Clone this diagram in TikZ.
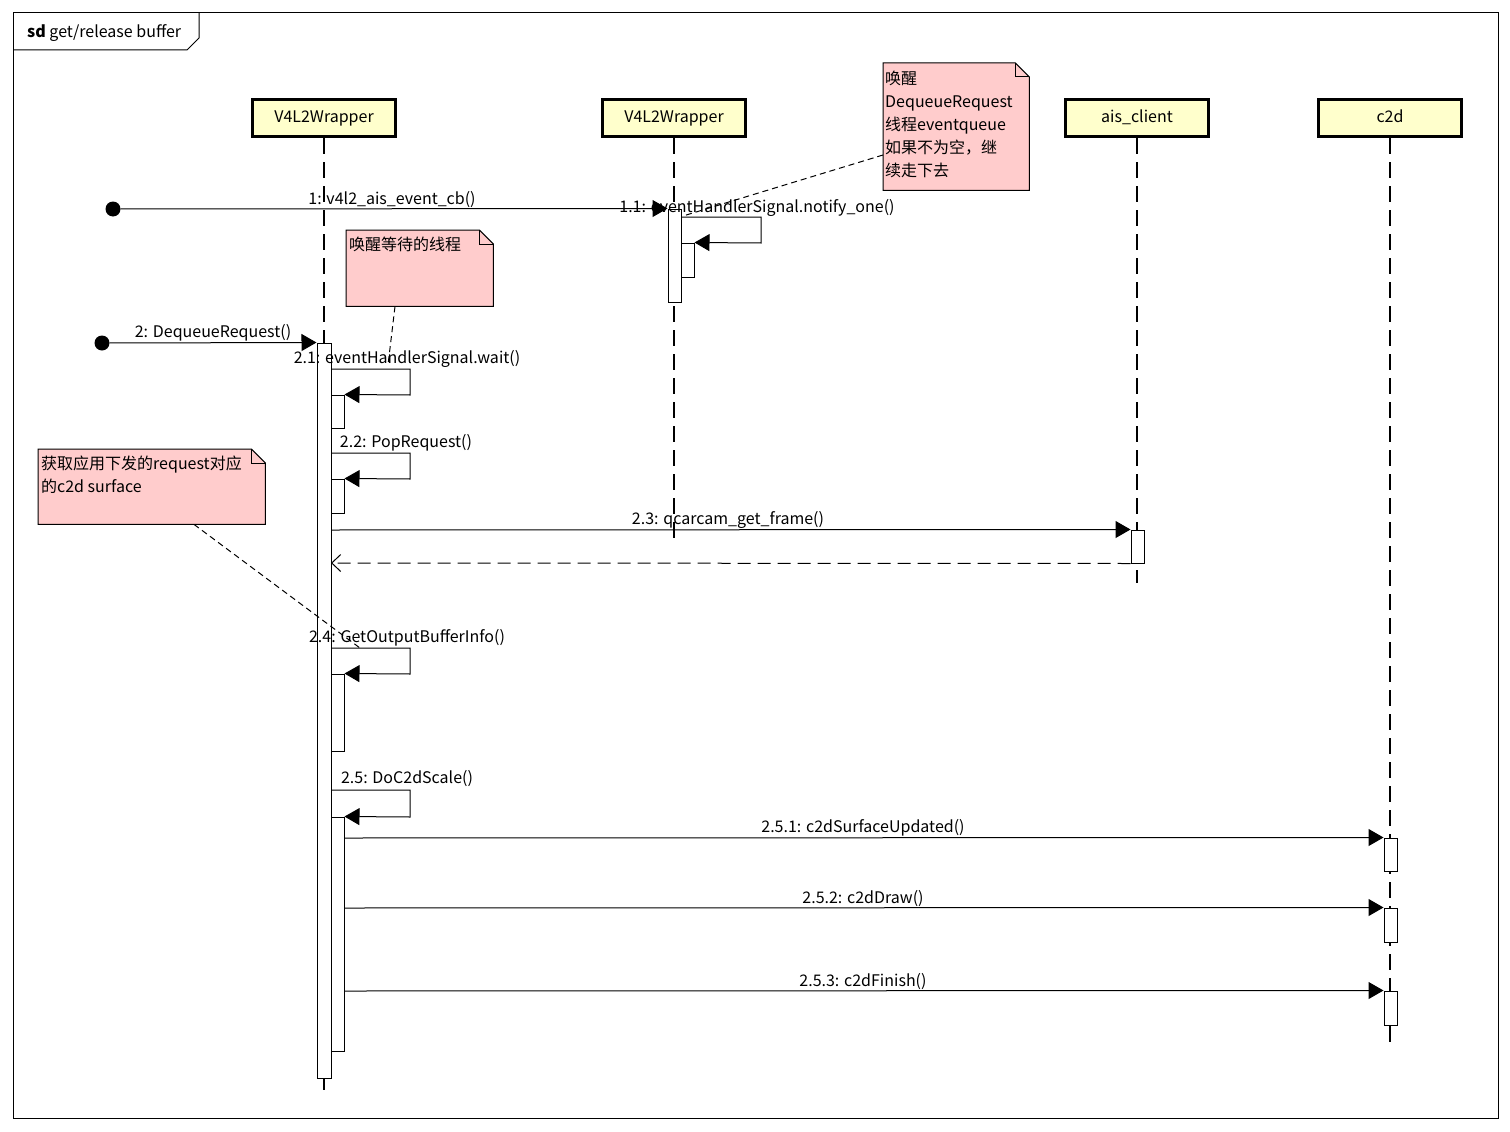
\documentclass[tikz,border=0pt]{standalone}
\usepackage{fontspec}
\setmainfont{Noto Sans CJK SC}
\usetikzlibrary{arrows.meta,fit}
\definecolor{headfill}{RGB}{255,255,204}
\definecolor{notefill}{RGB}{255,204,204}
\begin{document}
\begin{tikzpicture}[x=1pt,y=-1pt,
  every node/.style={font=\fontsize{16}{23}\selectfont},
  head/.style={draw, line width=3pt, fill=headfill, minimum width=143pt, minimum height=37pt, inner sep=0, text height=12pt, text depth=3.5pt},
  lifeln/.style={line width=1.2pt, dash pattern=on 16pt off 8pt},
  actbox/.style={draw, fill=white, line width=1pt, inner sep=0, minimum width=0pt, minimum height=0pt},
  msg/.style={line width=1pt, -{Triangle[length=15pt,width=17pt]}},
  retmsg/.style={line width=1pt, dash pattern=on 13pt off 7pt, -{Straight Barb[length=9pt,width=17pt,line width=1pt]}},
  startdot/.style={circle, fill=black, minimum size=15pt, inner sep=0},
  lbl/.style={anchor=base, inner sep=0},
  notelink/.style={line width=1pt, dash pattern=on 6pt off 4pt},
  notebox/.style={inner sep=0, anchor=north west},
  notetxt/.style={anchor=north west, inner sep=0, align=left},
]
\useasboundingbox (0,0) rectangle (1510,1132);
\fill[white] (0,0) rectangle (1510,1132);

% frame
\draw[line width=1pt] (13,13) rectangle (1498,1118);
\draw[line width=1pt] (13,50) -- (187,50) -- (199,38) -- (199,13);
\node[anchor=base west, inner sep=0] (frametitle) at (27,38) {\textbf{sd} get/release buffer};

% lifeline heads
\node[head] (h1) at (324,118) {V4L2Wrapper};
\node[head] (h2) at (674,118) {V4L2Wrapper};
\node[head] (h3) at (1137,118) {ais\_client};
\node[head] (h4) at (1390,118) {c2d};

\coordinate (e1) at (324,1090);
\coordinate (e2) at (674,540);
\coordinate (e3) at (1137,583);
\coordinate (e4) at (1390,1042);
\draw[lifeln] (h1.south) -- (e1);
\draw[lifeln] (h2.south) -- (e2);
\draw[lifeln] (h3.south) -- (e3);
\draw[lifeln] (h4.south) -- (e4);

% activations
\node[actbox, fit={(668,209) (681,302)}] (a2) {};
\node[actbox, fit={(681,243) (694,277)}] (a2n) {};
\node[actbox, fit={(317,343) (331,1078)}] (a1) {};
\node[actbox, fit={(331,395) (344,428)}] (a1n1) {};
\node[actbox, fit={(331,479) (344,513)}] (a1n2) {};
\node[actbox, fit={(331,674) (344,751)}] (a1n4) {};
\node[actbox, fit={(331,817) (344,1051)}] (a1n5) {};
\node[actbox, fit={(1131,530) (1144,563)}] (a3) {};
\node[actbox, fit={(1384,838) (1397,871)}] (a4a) {};
\node[actbox, fit={(1384,908) (1397,942)}] (a4b) {};
\node[actbox, fit={(1384,991) (1397,1025)}] (a4c) {};

% message 1
\node[startdot] (s1) at (113,209) {};
\draw[msg] (s1) -- (a2.north west);
\node[lbl] (l1) at (392,204) {1: v4l2\_ais\_event\_cb()};

% 1.1 self
\coordinate (p11a) at (681,217);
\coordinate (p11b) at (761,217);
\coordinate (p11c) at (761,243);
\draw[msg] (p11a) -- (p11b) -- (p11c) -- (a2n.north east);
\node[lbl] (l11) at (757,212) {1.1: eventHandlerSignal.notify\_one()};

% message 2
\node[startdot] (s2) at (102,343) {};
\draw[msg] (s2) -- (a1.north west);
\node[lbl] (l2) at (213,337) {2: DequeueRequest()};

% 2.1
\coordinate (p21a) at (331,369);
\coordinate (p21b) at (410,369);
\coordinate (p21c) at (410,395);
\draw[msg] (p21a) -- (p21b) -- (p21c) -- (a1n1.north east);
\node[lbl] (l21) at (407,363) {2.1: eventHandlerSignal.wait()};

% 2.2
\coordinate (p22a) at (331,453);
\coordinate (p22b) at (410,453);
\coordinate (p22c) at (410,479);
\draw[msg] (p22a) -- (p22b) -- (p22c) -- (a1n2.north east);
\node[lbl] (l22) at (406,447) {2.2: PopRequest()};

% 2.3
\coordinate (p23a) at (331,530);
\draw[msg] (p23a) -- (a3.north west);
\node[lbl] (l23) at (728,524) {2.3: qcarcam\_get\_frame()};
\coordinate (r23) at (331,563);
\draw[retmsg] (a3.south west) -- (r23);

% 2.4
\coordinate (p24a) at (331,648);
\coordinate (p24b) at (410,648);
\coordinate (p24c) at (410,674);
\draw[msg] (p24a) -- (p24b) -- (p24c) -- (a1n4.north east);
\node[lbl] (l24) at (407,642) {2.4: GetOutputBufferInfo()};

% 2.5
\coordinate (p25a) at (331,790);
\coordinate (p25b) at (410,790);
\coordinate (p25c) at (410,817);
\draw[msg] (p25a) -- (p25b) -- (p25c) -- (a1n5.north east);
\node[lbl] (l25) at (407,783) {2.5: DoC2dScale()};

% 2.5.x
\coordinate (p251) at (344,838);
\coordinate (p252) at (344,908);
\coordinate (p253) at (344,991);
\draw[msg] (p251) -- (a4a.north west);
\draw[msg] (p252) -- (a4b.north west);
\draw[msg] (p253) -- (a4c.north west);
\node[lbl] (l251) at (863,832) {2.5.1: c2dSurfaceUpdated()};
\node[lbl] (l252) at (863,903) {2.5.2: c2dDraw()};
\node[lbl] (l253) at (863,986) {2.5.3: c2dFinish()};

% notes
\node[notebox, minimum width=146pt, minimum height=127pt] (n1) at (883,63) {};
\draw[line width=1pt, fill=notefill] (n1.north west) -- ([xshift=-14pt]n1.north east) -- ([yshift=-14pt]n1.north east) -- (n1.south east) -- (n1.south west) -- cycle;
\draw[line width=1pt] ([xshift=-14pt]n1.north east) -- ([xshift=-14pt,yshift=-14pt]n1.north east) -- ([yshift=-14pt]n1.north east);
\node[notetxt] (n1t) at (885,71) {唤醒\\DequeueRequest\\线程eventqueue\\如果不为空，继\\续走下去};
\coordinate (c1) at (683,216);
\draw[notelink] ([yshift=-92pt]n1.north west) -- (c1);

\node[notebox, minimum width=147pt, minimum height=76pt] (n2) at (346,230) {};
\draw[line width=1pt, fill=notefill] (n2.north west) -- ([xshift=-14pt]n2.north east) -- ([yshift=-14pt]n2.north east) -- (n2.south east) -- (n2.south west) -- cycle;
\draw[line width=1pt] ([xshift=-14pt]n2.north east) -- ([xshift=-14pt,yshift=-14pt]n2.north east) -- ([yshift=-14pt]n2.north east);
\node[notetxt] (n2t) at (349,237) {唤醒等待的线程};
\coordinate (c2) at (388,365);
\draw[notelink] ([xshift=49pt]n2.south west) -- (c2);

\node[notebox, minimum width=227pt, minimum height=75pt] (n3) at (38,449) {};
\draw[line width=1pt, fill=notefill] (n3.north west) -- ([xshift=-14pt]n3.north east) -- ([yshift=-14pt]n3.north east) -- (n3.south east) -- (n3.south west) -- cycle;
\draw[line width=1pt] ([xshift=-14pt]n3.north east) -- ([xshift=-14pt,yshift=-14pt]n3.north east) -- ([yshift=-14pt]n3.north east);
\node[notetxt] (n3t) at (41,456) {获取应用下发的request对应\\的c2d surface};
\coordinate (c3) at (360,648);
\draw[notelink] ([xshift=156pt]n3.south west) -- (c3);
\end{tikzpicture}
\end{document}
